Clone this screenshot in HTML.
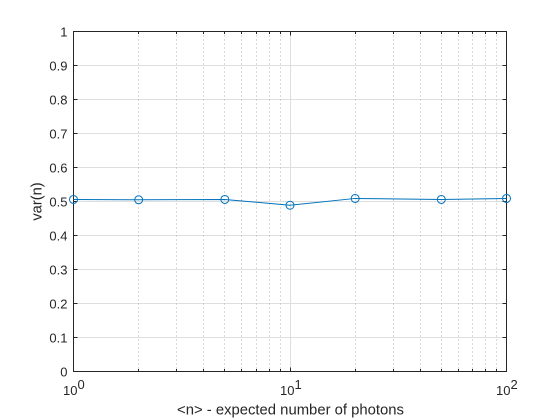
<!DOCTYPE html>
<html>
<head>
<meta charset="utf-8">
<style>
html,body{margin:0;padding:0;background:#fff;}
svg{display:block;font-family:"Liberation Sans",sans-serif;}
</style>
</head>
<body>
<svg id="chart" width="560" height="420" viewBox="0 0 560 420" xmlns="http://www.w3.org/2000/svg">
<rect x="73" y="31" width="434" height="341" fill="#fff"/>
<g id="grid"></g>
<g id="series"></g>
<g id="axes"></g>
<text x="290.5" y="414.5" font-size="14.85" fill="#262626" text-anchor="middle">&lt;n&gt; - expected number of photons</text>
<text transform="translate(41.5 201.5) rotate(-90)" font-size="14.67" fill="#262626" text-anchor="middle">var(n)</text>
</svg>
<script>
var photons = [1, 2, 5, 10, 20, 50, 100];
var variance = [0.506, 0.505, 0.506, 0.489, 0.509, 0.506, 0.509];
var yTicks = [0, 0.1, 0.2, 0.3, 0.4, 0.5, 0.6, 0.7, 0.8, 0.9, 1];
var xDecades = [0, 1, 2];
var xMinorTicks = [2, 3, 4, 5, 6, 7, 8, 9, 20, 30, 40, 50, 60, 70, 80, 90];

var NS = 'http://www.w3.org/2000/svg';
var LEFT = 73.5, RIGHT = 506.5, TOP = 31.5, BOTTOM = 371.5;

function xScale(v) {
  return LEFT + (Math.log10(v) - xDecades[0]) / (xDecades[xDecades.length - 1] - xDecades[0]) * (RIGHT - LEFT);
}
function yScale(v) {
  return BOTTOM - v * (BOTTOM - TOP);
}
function make(tag, parent, attrs) {
  var el = document.createElementNS(NS, tag);
  for (var k in attrs) el.setAttribute(k, attrs[k]);
  parent.appendChild(el);
  return el;
}

var grid = document.getElementById('grid');
var axes = document.getElementById('axes');
var series = document.getElementById('series');
var AXIS = '#262626';

/* horizontal grid and y ticks */
yTicks.forEach(function (t) {
  var y = Math.round(yScale(t) - 0.5) + 0.5;
  if (t > 0 && t < 1) {
    var g = make('line', grid, {x1: LEFT, x2: RIGHT, y1: y, y2: y, stroke: '#dfdfdf', 'stroke-width': 1});
    
    
  }
  var tk = make('line', axes, {x1: LEFT, x2: LEFT + 4, y1: y, y2: y, stroke: AXIS, 'stroke-width': 1});
  
  
  var tk2 = make('line', axes, {x1: RIGHT, x2: RIGHT - 4, y1: y, y2: y, stroke: AXIS, 'stroke-width': 1});
  
  
  var lb = make('text', axes, {x: LEFT - 6, y: y + 5, 'font-size': 13, fill: AXIS, 'text-anchor': 'end'});
  
  
  lb.textContent = String(t);
});

/* minor vertical grid */
xMinorTicks.forEach(function (t) {
  var x = Math.round(xScale(t) - 0.5) + 0.5;
  var g = make('line', grid, {x1: x, x2: x, y1: TOP, y2: BOTTOM, stroke: '#b4b4b4', 'stroke-width': 1, 'stroke-dasharray': '1 3'});
  
  
  var a = make('line', axes, {x1: x, x2: x, y1: BOTTOM, y2: BOTTOM - 2.5, stroke: AXIS, 'stroke-width': 1});
  
  
  var b = make('line', axes, {x1: x, x2: x, y1: TOP, y2: TOP + 2.5, stroke: AXIS, 'stroke-width': 1});
  
  
});

/* major vertical grid, ticks and labels */
xDecades.forEach(function (d) {
  var v = Math.pow(10, d);
  var x = Math.round(xScale(v) - 0.5) + 0.5;
  if (d !== xDecades[0] && d !== xDecades[xDecades.length - 1]) {
    var g = make('line', grid, {x1: x, x2: x, y1: TOP, y2: BOTTOM, stroke: '#dfdfdf', 'stroke-width': 1});
    
    
    var a = make('line', axes, {x1: x, x2: x, y1: BOTTOM, y2: BOTTOM - 4, stroke: AXIS, 'stroke-width': 1});
    
    
    var b = make('line', axes, {x1: x, x2: x, y1: TOP, y2: TOP + 4, stroke: AXIS, 'stroke-width': 1});
    
    
  }
  var lb = make('text', axes, {x: x - 10.5, y: 395, 'font-size': 13, fill: AXIS});
  
  
  lb.textContent = '10';
  var sup = make('text', axes, {x: x + 4, y: 389, 'font-size': 13, fill: AXIS});
  
  
  sup.textContent = String(d);
});

/* axes box */
var box = make('rect', axes, {x: LEFT, y: TOP, width: RIGHT - LEFT, height: BOTTOM - TOP, fill: 'none', stroke: AXIS, 'stroke-width': 1});



/* series */
var pts = photons.map(function (p, i) { return xScale(p).toFixed(2) + ',' + yScale(variance[i]).toFixed(2); }).join(' ');
var line = make('polyline', series, {points: pts, fill: 'none', stroke: '#0072BD', 'stroke-width': 1});


photons.forEach(function (p, i) {
  var c = make('circle', series, {cx: xScale(p), cy: yScale(variance[i]), r: 4, fill: 'none', stroke: '#0072BD', 'stroke-width': 1});
  
  
});
/* keep series on top of the axes box */
document.getElementById('chart').appendChild(series);
</script>
</body>
</html>
